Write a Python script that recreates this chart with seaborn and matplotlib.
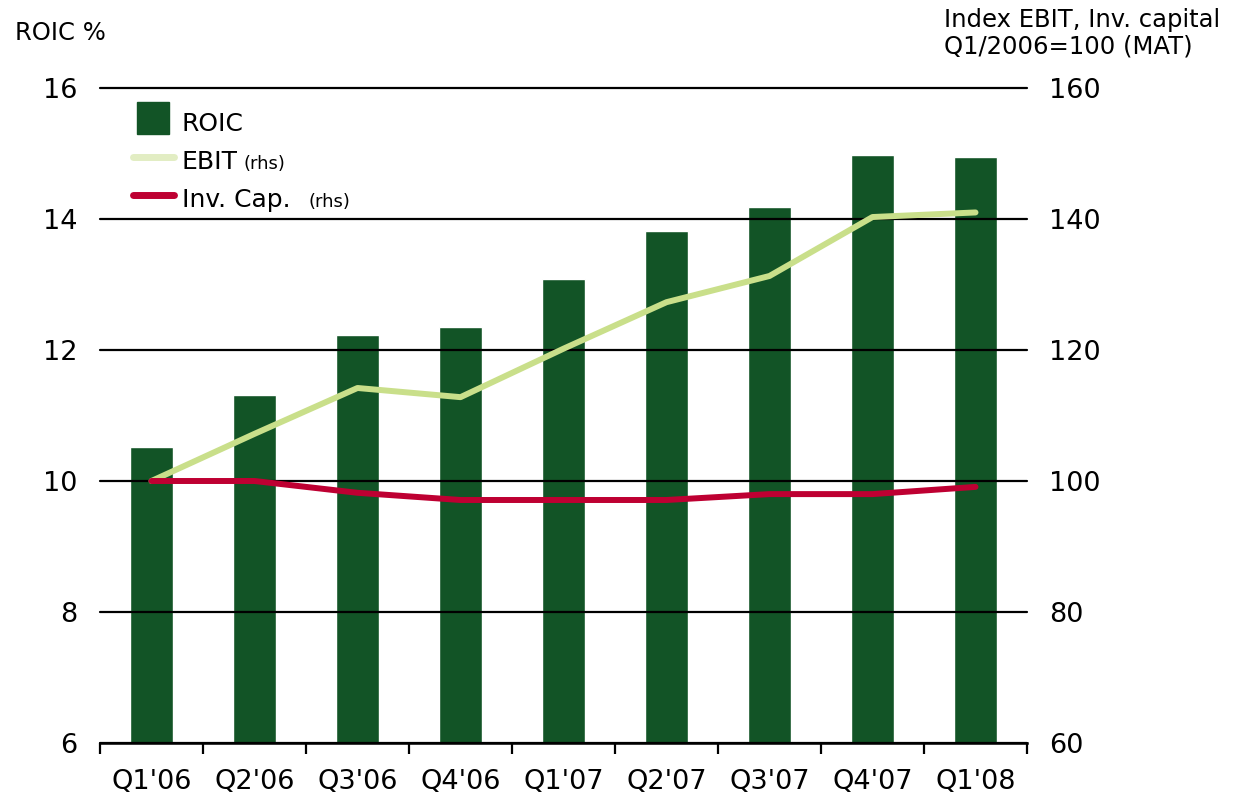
import numpy as np
import pandas as pd
import matplotlib
matplotlib.use("Agg")
import matplotlib.pyplot as plt
import seaborn as sns
from matplotlib.lines import Line2D

quarters = ["Q1'06", "Q2'06", "Q3'06", "Q4'06", "Q1'07", "Q2'07", "Q3'07", "Q4'07", "Q1'08"]
roic = [10.52, 11.31, 12.23, 12.35, 13.08, 13.82, 14.18, 14.98, 14.95]
ebit = [100.0, 107.2, 114.2, 112.8, 120.2, 127.3, 131.3, 140.3, 141.0]
invcap = [100.0, 100.0, 98.2, 97.1, 97.1, 97.1, 98.0, 98.0, 99.1]

BAR = "#125426"
EBIT_C = "#C9DF8A"
EBIT_LEG = "#E2EDC3"
INV_C = "#BE0032"

sns.set_theme(style="white")
plt.rcParams['font.family'] = ['DejaVu Sans']
plt.rcParams['text.color'] = 'black'
plt.rcParams['axes.labelcolor'] = 'black'

fig = plt.figure(figsize=(12.37, 8), dpi=100)
ax1 = fig.add_axes([100/1237, 57/800, 927/1237, 655/800])

df = pd.DataFrame({"q": quarters, "roic": roic, "ebit": ebit, "inv": invcap,
                   "pos": np.arange(len(quarters))})

sns.barplot(data=df, x="q", y="roic", color=BAR, saturation=1, width=0.41, ax=ax1, zorder=1)
ax1.set_ylim(6, 16)
ax1.set_xlim(-0.5, len(quarters) - 0.5)
ax1.set_yticks(np.arange(6, 17, 2))
ax1.set_axisbelow(False)
ax1.yaxis.grid(True, color="black", linewidth=1.6)
for gl in ax1.yaxis.get_gridlines():
    gl.set_clip_on(False)
ax1.xaxis.grid(False)
ax1.set_xlabel("")
ax1.set_ylabel("")
for s in ["top", "left", "right"]:
    ax1.spines[s].set_visible(False)
ax1.spines["bottom"].set_color("black")
ax1.spines["bottom"].set_linewidth(1.8)
ax1.tick_params(axis="y", length=0, pad=16, labelsize=19.5, colors="black")
ax1.tick_params(axis="x", which="major", length=0, pad=19, labelsize=19.5, colors="black")
ax1.set_xticks(np.arange(-0.5, len(quarters), 1), minor=True)
ax1.tick_params(axis="x", which="minor", bottom=True, length=8, width=1.6, color="black", direction="out")

ax2 = ax1.twinx()
sns.lineplot(data=df, x="pos", y="ebit", color=EBIT_C, linewidth=4.3, ax=ax2)
sns.lineplot(data=df, x="pos", y="inv", color=INV_C, linewidth=4.3, ax=ax2)
ax2.set_ylim(60, 160)
ax2.set_yticks(np.arange(60, 161, 20))
ax2.set_xlim(-0.5, len(quarters) - 0.5)
ax2.set_ylabel("")
ax2.set_xlabel("")
for s in ["top", "left", "right", "bottom"]:
    ax2.spines[s].set_visible(False)
ax2.tick_params(axis="y", length=0, pad=16, labelsize=19.5, colors="black")
ax2.grid(False)

handles = [Line2D([0], [0], linestyle="none", marker="s", markersize=22.5,
                  markerfacecolor=BAR, markeredgecolor=BAR),
           Line2D([0], [0], color=EBIT_LEG, linewidth=5),
           Line2D([0], [0], color=INV_C, linewidth=5)]
labels = ["ROIC", "EBIT", "Inv. Cap."]
leg = ax2.legend(handles, labels, loc="upper left", bbox_to_anchor=(0.019, 0.995),
                 frameon=False, fontsize=18, handlelength=1.67, handleheight=1.6,
                 labelspacing=0.25, handletextpad=0.3, borderaxespad=0.2)
for t in leg.get_texts():
    t.set_color("black")

fig.canvas.draw()
r = fig.canvas.get_renderer()
texts = leg.get_texts()
for t, gap in zip(texts[1:], [6, 18]):
    bb = t.get_window_extent(r)
    x_fig = (bb.x1 + gap) / fig.bbox.width
    y_fig = ((bb.y0 + bb.y1) / 2 - 2) / fig.bbox.height
    fig.text(x_fig, y_fig, "(rhs)", fontsize=13, va="center", ha="left", color="black")

fig.text(15/1237, 1 - 33/800, "ROIC %", fontsize=17.5, va="center", ha="left", color="black")
fig.text(1220/1237, 1 - 33/800, "Index EBIT, Inv. capital\nQ1/2006=100 (MAT)", fontsize=17.5,
         va="center", ha="right", multialignment="left", color="black", linespacing=1.15)

fig.savefig("out.png", dpi=100)
